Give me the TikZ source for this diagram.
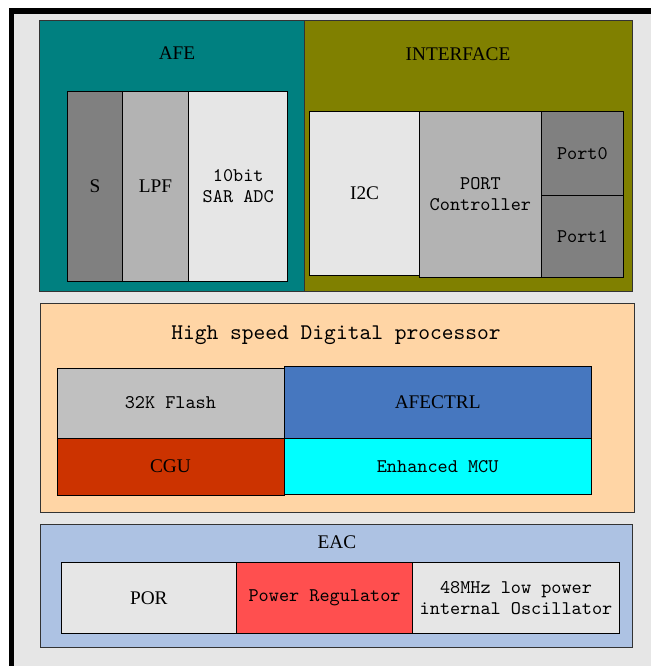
\documentclass[tikz,border=0pt]{standalone}
\usepackage{fontspec}
\setmainfont{Liberation Serif}
\setmonofont{lmmono10-regular.otf}
\begin{document}
\begin{tikzpicture}[x=1pt,y=-1pt,
  blk/.style={draw=black, line width=0.8pt, inner sep=0pt, anchor=north west},
  cont/.style={draw=black!80, line width=0.8pt, inner sep=0pt, anchor=north west},
  serif/.style={font=\fontsize{19.3}{21}\selectfont},
  mono/.style={font=\ttfamily\fontsize{19.3}{20.6}\selectfont, align=center},
  title/.style={font=\ttfamily\fontsize{22.4}{24}\selectfont}]
\definecolor{bg}{HTML}{E6E6E6}
\definecolor{tealc}{HTML}{008080}
\definecolor{olivec}{HTML}{808000}
\definecolor{g1}{HTML}{808080}
\definecolor{g2}{HTML}{B3B3B3}
\definecolor{g3}{HTML}{E6E6E6}
\definecolor{peach}{HTML}{FFD5A5}
\definecolor{flashc}{HTML}{C0C0C0}
\definecolor{cguc}{HTML}{CC3300}
\definecolor{afec}{HTML}{4677BF}
\definecolor{mcuc}{HTML}{00FFFF}
\definecolor{eacc}{HTML}{ADC2E3}
\definecolor{prc}{HTML}{FF4F4F}
\useasboundingbox (0,0) rectangle (651,666);
\fill[white] (0,0) rectangle (651,666);
\fill[black] (9,8) rectangle (651,666);
\fill[bg] (14,14) rectangle (651,666);
% AFE
\node[cont, fill=tealc, minimum width=264.7, minimum height=270.7] (afe) at (39.3,20) {};
\node[serif] (afet) at (177,53) {AFE};
\node[blk, fill=g1, minimum width=54.7, minimum height=190.3] (s) at (67.3,90.7) {};
\node[serif] at (s.center) {S};
\node[blk, fill=g2, minimum width=66.3, minimum height=190.3] (lpf) at (122,90.7) {};
\node[serif] at (lpf.center) {LPF};
\node[blk, fill=g3, minimum width=99, minimum height=190.3] (adc) at (188.3,90.7) {};
\node[mono] at (adc.center) {10bit\\SAR ADC};
% INTERFACE
\node[cont, fill=olivec, minimum width=328, minimum height=270.7] (intf) at (304,20) {};
\node[serif] (intft) at (458,54) {INTERFACE};
\node[blk, fill=g3, minimum width=110.3, minimum height=164.6] (i2c) at (309,110.7) {};
\node[serif] at (i2c.center) {I2C};
\node[blk, fill=g2, minimum width=121.4, minimum height=166] (pc) at (419.3,110.7) {};
\node[mono] at (pc.center) {PORT\\Controller};
\node[blk, fill=g1, minimum width=82.6, minimum height=84.6] (p0) at (540.7,110.7) {};
\node[mono] at (p0.center) {Port0};
\node[blk, fill=g1, minimum width=82.6, minimum height=81.4] (p1) at (540.7,195.3) {};
\node[mono] at (p1.center) {Port1};
% High speed digital processor
\node[cont, fill=peach, minimum width=594, minimum height=208.4] (hsdp) at (40,303.3) {};
\node[title] (hsdpt) at (336,335) {High speed Digital processor};
\node[blk, fill=flashc, minimum width=227, minimum height=70.2] (flash) at (56.5,367.5) {};
\node[mono] at (flash.center) {32K Flash};
\node[blk, fill=cguc, minimum width=227, minimum height=57] (cgu) at (56.5,437.7) {};
\node[serif] at (cgu.center) {CGU};
\node[blk, fill=afec, minimum width=307.5, minimum height=71.7] (afectrl) at (283.5,366) {};
\node[serif] at (afectrl.center) {AFECTRL};
\node[blk, fill=mcuc, minimum width=307.5, minimum height=56.6] (mcu) at (283.5,437.7) {};
\node[mono] at (mcu.center) {Enhanced MCU};
% EAC
\node[cont, fill=eacc, minimum width=592, minimum height=123.3] (eac) at (40,524) {};
\node[serif] (eact) at (337,542) {EAC};
\node[blk, fill=g3, minimum width=175.6, minimum height=71.6] (por) at (60.6,561.7) {};
\node[serif] at (por.center) {POR};
\node[blk, fill=prc, minimum width=176, minimum height=71.6] (pr) at (236.2,561.7) {};
\node[mono] at (pr.center) {Power Regulator};
\node[blk, fill=g3, minimum width=206.8, minimum height=71.6] (osc) at (412.2,561.7) {};
\node[mono] at (osc.center) {48MHz low power\\internal Oscillator};
\end{tikzpicture}
\end{document}
